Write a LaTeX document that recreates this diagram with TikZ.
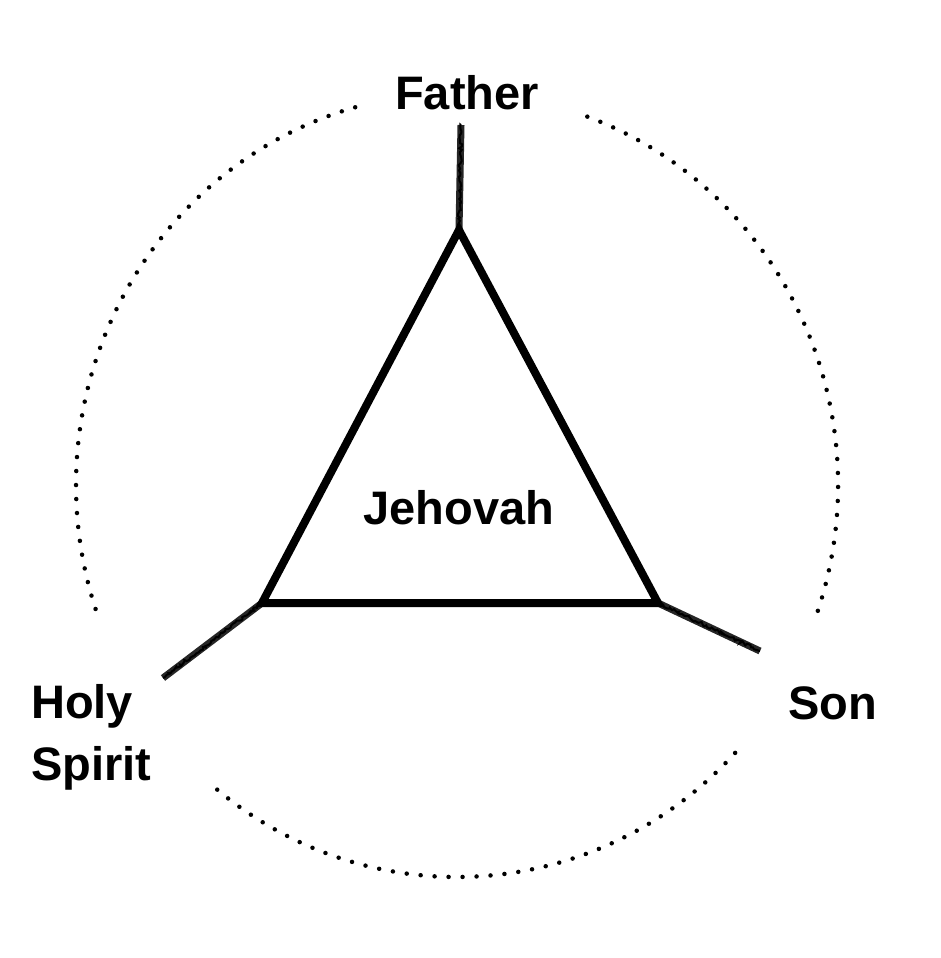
\documentclass[tikz,border=0pt]{standalone}
\usepackage{fontspec}
\setmainfont{Liberation Sans}
\usetikzlibrary{decorations.pathmorphing}
\begin{document}
\begin{tikzpicture}[x=1pt,y=-1pt,
  lbl/.style={font=\bfseries\fontsize{47}{62}\selectfont, inner sep=0pt},
  tri/.style={line width=8pt, line join=miter},
  rough/.style={line width=7pt, draw=black!85},
  roughedge/.style={line width=2pt, decorate, decoration={random steps, segment length=2pt, amplitude=1.5pt}},
  dots/.style={line width=4.5pt, line cap=round, dash pattern=on 0pt off 14pt}]
\useasboundingbox (0,0) rectangle (940,958);
\coordinate (A) at (459,230);
\coordinate (B) at (262,603);
\coordinate (C) at (658,603);
\coordinate (Ae) at (461,125);
\coordinate (Be) at (163,678);
\coordinate (Ce) at (760,651);
\coordinate (O) at (457,485);
\foreach \p/\q in {A/Ae,B/Be,C/Ce}{
  \draw[rough] (\p) -- (\q);
  \draw[roughedge] (\p) -- (\q);
}
\draw[tri] (A) -- (B) -- (C) -- cycle;
\draw[dots] ([shift={(105.5:381 and -392)}]O) arc[start angle=105.5, end angle=200, x radius=381, y radius=-392];
\draw[dots] ([shift={(70:381 and -392)}]O) arc[start angle=70, end angle=-19, x radius=381, y radius=-392];
\draw[dots] ([shift={(231:381 and -392)}]O) arc[start angle=231, end angle=318, x radius=381, y radius=-392];
\node[lbl] (father) at (467,93) {Father};
\node[lbl] (jehovah) at (459,508) {Jehovah};
\node[lbl] (son) at (833,703) {Son};
\node[lbl, anchor=west, align=left] (spirit) at (31,737) {Holy\\Spirit};
\end{tikzpicture}
\end{document}
